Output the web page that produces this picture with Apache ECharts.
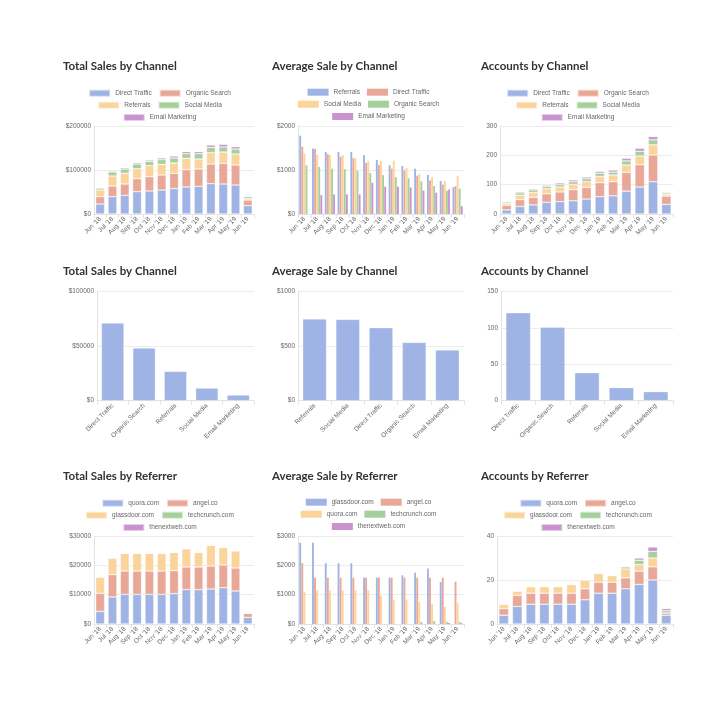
<!DOCTYPE html>
<html>
<head>
<meta charset="utf-8">
<script src="https://cdn.jsdelivr.net/npm/echarts@6/dist/echarts.min.js"></script>
<style>
html,body{margin:0;padding:0;background:#fff;}
.panel{position:absolute;width:209px;height:205px;}
</style>
</head>
<body>
<div id="c1" class="panel" style="left:55px;top:50px"></div>
<div id="c2" class="panel" style="left:264px;top:50px"></div>
<div id="c3" class="panel" style="left:473px;top:50px"></div>
<div id="c4" class="panel" style="left:55px;top:255px"></div>
<div id="c5" class="panel" style="left:264px;top:255px"></div>
<div id="c6" class="panel" style="left:473px;top:255px"></div>
<div id="c7" class="panel" style="left:55px;top:460px"></div>
<div id="c8" class="panel" style="left:264px;top:460px"></div>
<div id="c9" class="panel" style="left:473px;top:460px"></div>
<script>
// ---------- DATA ----------
const months = ["Jun '18","Jul '18","Aug '18","Sep '18","Oct '18","Nov '18","Dec '18","Jan '19","Feb '19","Mar '19","Apr '19","May '19","Jun '19"];

// Total Sales by Channel (stacked)
const tsDirect    = [22700, 39400, 42400, 50800, 52300, 54500, 57600, 61400, 62900, 68900, 68200, 65900, 18900];
const tsOrganic   = [16700, 24200, 25800, 29500, 32500, 34100, 34800, 39400, 39400, 44700, 47000, 45500, 12900];
const tsReferrals = [15100, 22800, 24200, 22700, 25000, 24300, 23500, 25700, 22700, 25800, 25700, 25000, 3000];
const tsSocial    = [4600, 9100, 9900, 10600, 9900, 10600, 11400, 10600, 12100, 12100, 11400, 11300, 4600];
const tsEmail     = [0, 2200, 3000, 3100, 3000, 3800, 4500, 4600, 4600, 5300, 6000, 5300, 1500];

// Average Sale by Channel (grouped)
const asReferrals = [1780, 1490, 1410, 1410, 1410, 1340, 1230, 1110, 1090, 1030, 890, 750, 610];
const asDirect    = [1530, 1480, 1360, 1300, 1270, 1160, 1110, 1030, 990, 870, 760, 670, 630];
const asSocial    = [1370, 1340, 1340, 1340, 1265, 1210, 1210, 1210, 1045, 910, 840, 750, 870];
const asOrganic   = [1105, 1070, 1030, 1020, 985, 930, 885, 835, 810, 740, 635, 530, 575];
const asEmail     = [0, 430, 445, 445, 445, 710, 620, 620, 600, 530, 485, 555, 175];

// Accounts by Channel (stacked)
const acDirect    = [14, 26, 31, 40, 42, 45, 51, 59, 62, 78, 92, 110, 33];
const acOrganic   = [16, 23, 26, 29, 33, 38, 40, 48, 48, 64, 76, 91, 28];
const acReferrals = [6, 15, 16, 17, 17, 18, 19, 21, 23, 25, 30, 35, 6];
const acSocial    = [5, 8, 9, 8, 9, 9, 10, 11, 10, 14, 16, 17, 5];
const acEmail     = [2, 4, 4, 4, 5, 6, 6, 6, 7, 9, 10, 11, 3];

// Row 2 totals
const chanCatsA = ["Direct Traffic","Organic Search","Referrals","Social Media","Email Marketing"];
const chanCatsB = ["Referrals","Social Media","Direct Traffic","Organic Search","Email Marketing"];
const tsByChannel = [71300, 48300, 26900, 11600, 5200];
const asByChannel = [750, 746, 670, 535, 465];
const acByChannel = [121, 101, 38.5, 18, 12.5];

// Total Sales by Referrer (stacked)
const trQuora      = [4300, 9200, 10100, 10100, 10100, 10100, 10340, 11700, 11700, 11930, 12380, 11250, 2270];
const trAngel      = [6150, 7600, 7960, 7960, 7960, 7960, 7840, 7730, 7730, 7840, 7730, 7840, 1370];
const trGlassdoor  = [5550, 5700, 6040, 6040, 6040, 6040, 6250, 6250, 5000, 7030, 6020, 5790, 100];
const trTechcrunch = [0, 0, 0, 0, 0, 0, 0, 0, 0, 0, 150, 200, 0];
const trThenextweb = [0, 0, 0, 0, 0, 0, 0, 0, 0, 0, 0, 0, 0];

// Average Sale by Referrer (grouped)
const arGlassdoor  = [2770, 2770, 2070, 2070, 2070, 1580, 1580, 1580, 1660, 1750, 1890, 1430, 0];
const arAngel      = [2070, 1580, 1580, 1580, 1580, 1580, 1580, 1580, 1580, 1580, 1580, 1580, 1440];
const arQuora      = [1090, 1150, 1140, 1140, 1140, 1140, 955, 830, 830, 750, 680, 580, 710];
const arTechcrunch = [0, 0, 0, 0, 0, 0, 0, 0, 0, 70, 100, 75, 70];
const arThenextweb = [0, 0, 0, 0, 0, 0, 0, 0, 0, 0, 0, 35, 25];

// Accounts by Referrer (stacked)
const rcQuora      = [4, 8, 9, 9, 9, 9, 11, 14, 14, 16, 18, 20, 4];
const rcAngel      = [3, 5, 5, 5, 5, 5, 5, 5, 5, 5, 6, 6, 1];
const rcGlassdoor  = [2, 2, 3, 3, 3, 4, 4, 4, 3, 4, 3, 4, 0];
const rcTechcrunch = [0, 0, 0, 0, 0, 0, 0, 0, 0, 1, 2, 3, 1];
const rcThenextweb = [0, 0, 0, 0, 0, 0, 0, 0, 0, 0, 1, 2, 1];

// ---------- STYLE ----------
const palette = ['#9fb4e4', '#e9a797', '#fbd49c', '#a5d09c', '#c993d0'];
const FONT = 'Liberation Sans, Arial, sans-serif';
const TFONT = 'Lato, "Open Sans", sans-serif';

function build(id, cfg) {
  const chart = echarts.init(document.getElementById(id), null, {renderer: 'canvas'});
  const hasLegend = !!cfg.legendRows;
  const legends = [];
  if (hasLegend) {
    const tops = [38.7, 50.7, 63];
    cfg.legendRows.forEach((row, i) => {
      legends.push({
        data: row, left: 'center', top: tops[i], orient: 'horizontal',
        icon: 'rect', itemWidth: 21, itemHeight: 7, itemGap: 7,
        selectedMode: false, padding: 0,
        textStyle: {fontSize: 6.5, color: '#666', fontFamily: FONT}
      });
    });
  }
  const series = cfg.series.map((s, i) => ({
    name: s.name, type: 'bar', data: s.data,
    stack: cfg.stacked ? 'total' : undefined,
    barCategoryGap: cfg.grouped ? '20%' : '28%',
    barGap: cfg.grouped ? '11%' : undefined,
    itemStyle: {color: s.color || palette[i],
      borderColor: cfg.grouped ? undefined : 'rgba(255,255,255,0.55)',
      borderWidth: cfg.grouped ? 0 : 0.6},
    animation: false
  }));
  chart.setOption({
    animation: false,
    title: {text: cfg.title, left: 8, top: 10, padding: 0,
      textStyle: {fontSize: 11.5, fontWeight: 'bold', color: '#333', fontFamily: TFONT}},
    legend: legends,
    grid: {left: cfg.gridLeft, right: cfg.gridRight, top: cfg.gridTop, height: cfg.gridHeight, containLabel: false},
    xAxis: {
      type: 'category', data: cfg.cats,
      axisLine: {lineStyle: {color: '#e3e3e3', width: 1}},
      axisTick: {show: true, length: 4, lineStyle: {color: '#e3e3e3'}},
      axisLabel: {rotate: 45, fontSize: 6.5, color: '#666', fontFamily: FONT, margin: 4, interval: 0},
      splitLine: {show: false}
    },
    yAxis: {
      type: 'value', min: 0, max: cfg.yMax, interval: cfg.yInterval,
      axisLine: {show: true, lineStyle: {color: '#e3e3e3'}},
      axisTick: {show: false},
      axisLabel: {fontSize: 6.5, color: '#666', fontFamily: FONT, margin: 3,
        formatter: v => (cfg.prefix || '') + v},
      splitLine: {lineStyle: {color: '#ececec', width: 1}}
    },
    series: series
  });
}

const chanRows1 = [["Direct Traffic","Organic Search"],["Referrals","Social Media"],["Email Marketing"]];
const chanRows2 = [["Referrals","Direct Traffic"],["Social Media","Organic Search"],["Email Marketing"]];
const refRows1 = [["quora.com","angel.co"],["glassdoor.com","techcrunch.com"],["thenextweb.com"]];
const refRows2 = [["glassdoor.com","angel.co"],["quora.com","techcrunch.com"],["thenextweb.com"]];

build('c1', {title: 'Total Sales by Channel', cats: months, stacked: true, legendRows: chanRows1,
  gridLeft: 39, gridRight: 10, gridTop: 76, gridHeight: 88, yMax: 200000, yInterval: 100000, prefix: '$',
  series: [{name: 'Direct Traffic', data: tsDirect}, {name: 'Organic Search', data: tsOrganic},
    {name: 'Referrals', data: tsReferrals}, {name: 'Social Media', data: tsSocial}, {name: 'Email Marketing', data: tsEmail}]});

build('c2', {title: 'Average Sale by Channel', cats: months, grouped: true, legendRows: chanRows2,
  gridLeft: 34, gridRight: 9, gridTop: 76, gridHeight: 88, yMax: 2000, yInterval: 1000, prefix: '$',
  series: [{name: 'Referrals', data: asReferrals}, {name: 'Direct Traffic', data: asDirect},
    {name: 'Social Media', data: asSocial}, {name: 'Organic Search', data: asOrganic}, {name: 'Email Marketing', data: asEmail}]});

build('c3', {title: 'Accounts by Channel', cats: months, stacked: true, legendRows: chanRows1,
  gridLeft: 27, gridRight: 9, gridTop: 76, gridHeight: 88, yMax: 300, yInterval: 100,
  series: [{name: 'Direct Traffic', data: acDirect}, {name: 'Organic Search', data: acOrganic},
    {name: 'Referrals', data: acReferrals}, {name: 'Social Media', data: acSocial}, {name: 'Email Marketing', data: acEmail}]});

build('c4', {title: 'Total Sales by Channel', cats: chanCatsA,
  gridLeft: 42, gridRight: 10, gridTop: 36.7, gridHeight: 109, yMax: 100000, yInterval: 50000, prefix: '$',
  series: [{name: 'Total Sales', data: tsByChannel, color: palette[0]}]});

build('c5', {title: 'Average Sale by Channel', cats: chanCatsB,
  gridLeft: 34, gridRight: 9, gridTop: 36.7, gridHeight: 109, yMax: 1000, yInterval: 500, prefix: '$',
  series: [{name: 'Average Sale', data: asByChannel, color: palette[0]}]});

build('c6', {title: 'Accounts by Channel', cats: chanCatsA,
  gridLeft: 28, gridRight: 9, gridTop: 36.7, gridHeight: 109, yMax: 150, yInterval: 50,
  series: [{name: 'Accounts', data: acByChannel, color: palette[0]}]});

build('c7', {title: 'Total Sales by Referrer', cats: months, stacked: true, legendRows: refRows1,
  gridLeft: 39, gridRight: 10, gridTop: 76, gridHeight: 88, yMax: 30000, yInterval: 10000, prefix: '$',
  series: [{name: 'quora.com', data: trQuora}, {name: 'angel.co', data: trAngel},
    {name: 'glassdoor.com', data: trGlassdoor}, {name: 'techcrunch.com', data: trTechcrunch}, {name: 'thenextweb.com', data: trThenextweb}]});

build('c8', {title: 'Average Sale by Referrer', cats: months, grouped: true, legendRows: refRows2,
  gridLeft: 34, gridRight: 9, gridTop: 76, gridHeight: 88, yMax: 3000, yInterval: 1000, prefix: '$',
  series: [{name: 'glassdoor.com', data: arGlassdoor}, {name: 'angel.co', data: arAngel},
    {name: 'quora.com', data: arQuora}, {name: 'techcrunch.com', data: arTechcrunch}, {name: 'thenextweb.com', data: arThenextweb}]});

build('c9', {title: 'Accounts by Referrer', cats: months, stacked: true, legendRows: refRows1,
  gridLeft: 24, gridRight: 9, gridTop: 76, gridHeight: 88, yMax: 40, yInterval: 20,
  series: [{name: 'quora.com', data: rcQuora}, {name: 'angel.co', data: rcAngel},
    {name: 'glassdoor.com', data: rcGlassdoor}, {name: 'techcrunch.com', data: rcTechcrunch}, {name: 'thenextweb.com', data: rcThenextweb}]});
</script>
</body>
</html>
